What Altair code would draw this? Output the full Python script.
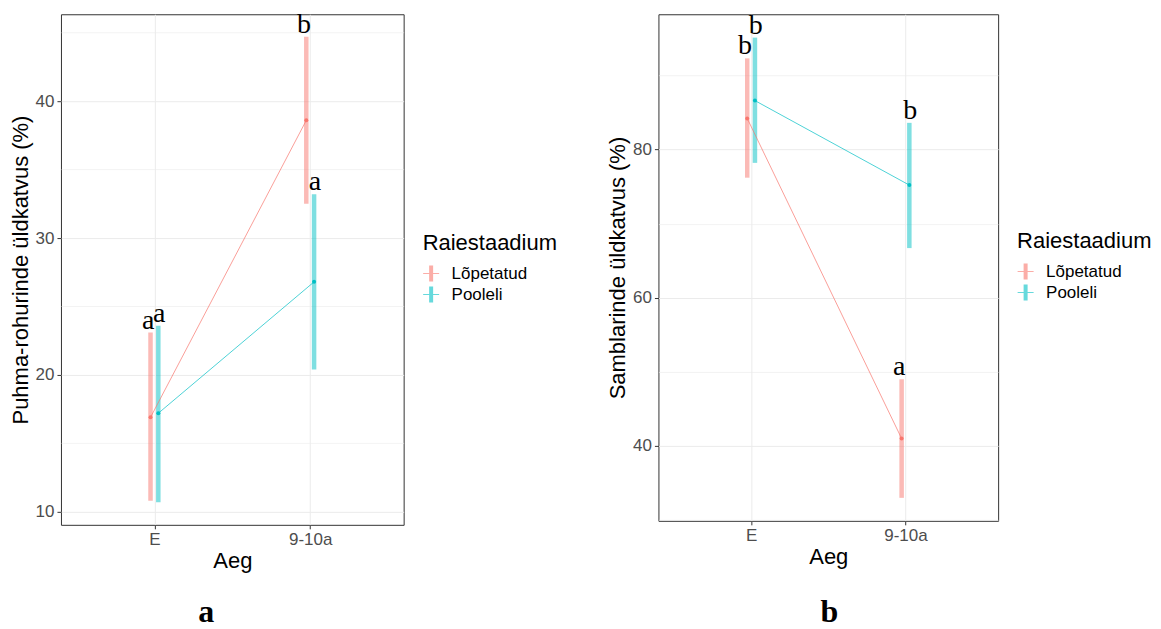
import altair as alt
import pandas as pd

aeg = ["E", "9-10a"]
aeg_pos = [1, 2]
series = ["Lõpetatud", "Pooleli"]
colors = ["#F8766D", "#00BFC4"]

# panel a: Puhma-rohurinde üldkatvus (%)
a_mean_lop = [16.9, 38.6]
a_lo_lop = [10.8, 32.5]
a_hi_lop = [23.1, 44.7]
a_let_lop = ["a", "b"]
a_mean_poo = [17.2, 26.8]
a_lo_poo = [10.7, 20.4]
a_hi_poo = [23.6, 33.2]
a_let_poo = ["a", "a"]
a_domain = [9.05, 46.35]
a_ticks = [10, 15, 20, 25, 30, 35, 40, 45]

# panel b: Samblarinde üldkatvus (%)
b_mean_lop = [84.2, 41.0]
b_lo_lop = [76.2, 33.0]
b_hi_lop = [92.3, 49.0]
b_let_lop = ["b", "a"]
b_mean_poo = [86.6, 75.2]
b_lo_poo = [78.2, 66.7]
b_hi_poo = [95.1, 83.6]
b_let_poo = ["b", "b"]
b_domain = [29.9, 98.25]
b_ticks = [30, 40, 50, 60, 70, 80, 90]


def frame(m1, l1, h1, t1, m2, l2, h2, t2):
    rows = []
    for s, m, l, h, t in [(series[0], m1, l1, h1, t1), (series[1], m2, l2, h2, t2)]:
        for i in range(2):
            rows.append(dict(Aeg=aeg[i], pos=aeg_pos[i], Raiestaadium=s,
                             mean=m[i], lo=l[i], hi=h[i], letter=t[i]))
    return pd.DataFrame(rows)


sym = "M-0.25,-1H0.25V1H-0.25Z M-1,-0.07H1V0.07H-1Z"


def panel(df, ytitle, domain, ticks, major, w, h, caption, cdx, coff, lx, ly):
    base = alt.Chart(df).transform_calculate(
        xd="datum.pos + (datum.Raiestaadium == 'Lõpetatud' ? -0.025 : 0.025)",
        xt="datum.pos + (datum.Raiestaadium == 'Lõpetatud' ? -0.04 : 0.03)",
    )
    xenc = alt.X("xd:Q", scale=alt.Scale(domain=[0.4, 2.6], nice=False, zero=False),
                 axis=alt.Axis(values=aeg_pos, title="Aeg",
                               labelExpr="datum.value == 1 ? 'E' : '9-10a'"))
    yscale = alt.Scale(domain=domain, nice=False, zero=False)
    yaxis = alt.Axis(values=ticks, title=ytitle,
                     labelExpr=f"datum.value % {major} == 0 ? datum.label : ''",
                     tickOpacity=alt.condition(f"datum.value % {major} == 0", alt.value(1), alt.value(0)),
                     gridWidth=alt.condition(f"datum.value % {major} == 0", alt.value(1), alt.value(0.6)))
    leg = alt.Legend(
        title="Raiestaadium", orient="none", legendX=lx, legendY=ly,
        symbolType=sym, symbolSize=256, symbolOpacity=0.6, symbolStrokeWidth=0,
        titleFontSize=22, titleFont="Liberation Sans", titleFontWeight="normal",
        titleColor="black", titlePadding=10,
        labelFontSize=17, labelFont="Liberation Sans", labelColor="black",
        labelOffset=12, rowPadding=3)
    color = alt.Color("Raiestaadium:N", scale=alt.Scale(domain=series, range=colors), legend=leg)
    bars = base.mark_rule(strokeWidth=4.5, opacity=0.5).encode(
        x=xenc, y=alt.Y("lo:Q", scale=yscale, axis=yaxis), y2="hi:Q", color=color)
    line = base.mark_line(strokeWidth=0.7).encode(x="xd:Q", y="mean:Q", color=color)
    pts = base.mark_circle(size=16, opacity=1).encode(x="xd:Q", y="mean:Q", color=color)
    txt = base.mark_text(font="Liberation Serif", fontSize=28, baseline="alphabetic",
                         dy=-4, color="black").encode(
        x="xt:Q", y="hi:Q", text="letter:N")
    return alt.layer(bars, line, pts, txt).properties(
        width=w, height=h,
        title=alt.TitleParams(caption, orient="bottom", anchor="middle", frame="group",
                              font="Liberation Serif", fontWeight="bold", fontSize=32,
                              color="black", dx=cdx, offset=coff))


pa = panel(frame(a_mean_lop, a_lo_lop, a_hi_lop, a_let_lop,
                 a_mean_poo, a_lo_poo, a_hi_poo, a_let_poo),
           "Puhma-rohurinde üldkatvus (%)", a_domain, a_ticks, 10, 343, 511, "a", -26, 25, 362, 219)
pb = panel(frame(b_mean_lop, b_lo_lop, b_hi_lop, b_let_lop,
                 b_mean_poo, b_lo_poo, b_hi_poo, b_let_poo),
           "Samblarinde üldkatvus (%)", b_domain, b_ticks, 20, 340, 507, "b", 1, 29, 359, 217)

chart = alt.hconcat(pa, pb, spacing=47).resolve_scale(
    color="independent", x="independent", y="independent"
).resolve_legend(color="independent").properties(
    padding={"left": 0, "top": 2, "right": 0, "bottom": 0}
).configure_view(stroke="#333333", strokeWidth=1).configure_axis(
    domain=False, tickColor="#333333", tickSize=4, labelColor="#4D4D4D",
    labelFont="Liberation Sans", labelFontSize=17, labelPadding=3,
    titleFont="Liberation Sans", titleFontSize=22, titleFontWeight="normal",
    titleColor="black", titlePadding=3, gridColor="#EBEBEB"
)

chart.save("out.html", embed_options={"renderer": "svg", "actions": False})
